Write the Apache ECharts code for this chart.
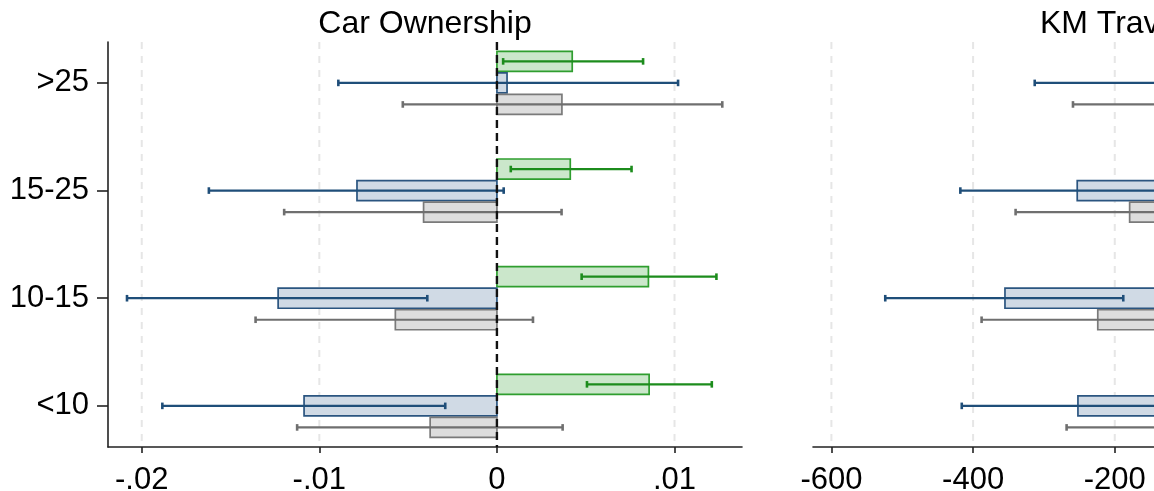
<!DOCTYPE html>
<html>
<head>
<meta charset="utf-8">
<script src="https://cdn.jsdelivr.net/npm/echarts@6/dist/echarts.min.js"></script>
<style>
  html, body { margin: 0; padding: 0; background: #fff; overflow: hidden; width: 1154px; height: 491px; }
  #chart { width: 1500px; height: 491px; }
</style>
</head>
<body>
<div id="chart"></div>
<script>
// Age-band categories, listed bottom to top (positions 1..4 on the y scale)
const categories = ['<10', '10-15', '15-25', '>25'];

// Car ownership: point estimates and 95% confidence bounds per specification
const carA    = [0.00857, 0.00853, 0.00413, 0.00424];
const carALo  = [0.00507, 0.00477, 0.00078, 0.00035];
const carAHi  = [0.01210, 0.01236, 0.00758, 0.00823];
const carB    = [-0.01086, -0.01232, -0.00788, 0.00057];
const carBLo  = [-0.01884, -0.02083, -0.01622, -0.00893];
const carBHi  = [-0.00291, -0.00392, 0.00038, 0.01020];
const carC    = [-0.00376, -0.00572, -0.00413, 0.00366];
const carCLo  = [-0.01125, -0.01359, -0.01198, -0.00530];
const carCHi  = [0.00370, 0.00203, 0.00364, 0.01269];

// KM traveled: point estimates and 95% confidence bounds
const kmA     = [95, 140, 60, 70];
const kmALo   = [20, 38, -20, -30];
const kmAHi   = [170, 242, 140, 170];
const kmB     = [-252, -355, -253, -105];
const kmBLo   = [-416, -524, -418, -313];
const kmBHi   = [-88, -188, -88, 103];
const kmC     = [-120, -224, -179, -95];
const kmCLo   = [-268, -388, -340, -259];
const kmCHi   = [28, -59, -18, 69];

// Axis ticks and their printed labels
const carTicks      = [-0.02, -0.01, 0, 0.01];
const carTickLabels = ['-.02', '-.01', '0', '.01'];
const kmTicks       = [-600, -400, -200, 0, 200];
const kmTickLabels  = ['-600', '-400', '-200', '0', '200'];

const panelTitles = ['Car Ownership', 'KM Traveled'];

// ---- styling ----
const FONT = 'Liberation Sans, Arial, sans-serif';
const BAR_H = 0.186;              // bar thickness in y-scale units
const OFFSETS = [0.2, 0, -0.2];   // A above, B centred, C below the category line
const STYLES = [
  { fill: '#cbe7cb', stroke: '#2f9e2f', ci: '#1c8c1c' },
  { fill: '#d0dae5', stroke: '#2b5580', ci: '#1f4e79' },
  { fill: '#dddddd', stroke: '#7a7a7a', ci: '#6f6f6f' }
];
const Y_MIN = 0.618, Y_MAX = 4.38;

const positions = categories.map((_, i) => i + 1);

function barRender(offset, st) {
  return function (params, api) {
    const v = api.value(0);
    const p = api.value(1) + offset;
    const a = api.coord([0, p]);
    const b = api.coord([v, p]);
    const h = api.size([0, BAR_H])[1];
    return {
      type: 'rect',
      shape: { x: Math.min(a[0], b[0]), y: a[1] - h / 2, width: Math.abs(b[0] - a[0]), height: h },
      style: { fill: st.fill, stroke: st.stroke, lineWidth: 1.7 }
    };
  };
}

function ciRender(offset, st) {
  return function (params, api) {
    const p = api.value(2) + offset;
    const lo = api.coord([api.value(0), p]);
    const hi = api.coord([api.value(1), p]);
    const cap = 3.3;
    const ls = { stroke: st.ci, lineWidth: 2.2 };
    const cs = { stroke: st.ci, lineWidth: 2.6 };
    return {
      type: 'group',
      children: [
        { type: 'line', shape: { x1: lo[0], y1: lo[1], x2: hi[0], y2: hi[1] }, style: ls },
        { type: 'line', shape: { x1: lo[0], y1: lo[1] - cap, x2: lo[0], y2: lo[1] + cap }, style: cs },
        { type: 'line', shape: { x1: hi[0], y1: hi[1] - cap, x2: hi[0], y2: hi[1] + cap }, style: cs }
      ]
    };
  };
}

function vlineRender(color, width, dash) {
  return function (params, api) {
    const t = api.coord([api.value(0), Y_MAX]);
    const b = api.coord([api.value(0), Y_MIN]);
    return {
      type: 'line',
      shape: { x1: t[0], y1: t[1], x2: b[0], y2: b[1] },
      style: { stroke: color, lineWidth: width, lineDash: dash }
    };
  };
}

function panelSeries(idx, vals, los, his, ticks) {
  const out = [];
  // light dashed gridlines at non-zero ticks
  out.push({
    type: 'custom', xAxisIndex: idx, yAxisIndex: idx, silent: true, z: 1,
    renderItem: vlineRender('#e6e6e6', 2, [7, 7]),
    data: ticks.filter(t => t !== 0).map(t => [t]),
    encode: { x: 0 }
  });
  vals.forEach((arr, s) => {
    out.push({
      type: 'custom', xAxisIndex: idx, yAxisIndex: idx, z: 2,
      renderItem: barRender(OFFSETS[s], STYLES[s]),
      data: arr.map((v, i) => [v, positions[i]]),
      encode: { x: 0, y: 1 }
    });
  });
  vals.forEach((arr, s) => {
    out.push({
      type: 'custom', xAxisIndex: idx, yAxisIndex: idx, z: 3,
      renderItem: ciRender(OFFSETS[s], STYLES[s]),
      data: los[s].map((lo, i) => [lo, his[s][i], positions[i]]),
      encode: { x: [0, 1], y: 2 }
    });
  });
  // zero reference line
  out.push({
    type: 'custom', xAxisIndex: idx, yAxisIndex: idx, silent: true, z: 4,
    renderItem: vlineRender('#111', 2.4, [8, 5]),
    data: [[0]],
    encode: { x: 0 }
  });
  return out;
}

function xAxisFor(idx, min, max, ticks, labels) {
  return {
    type: 'value', gridIndex: idx, min: min, max: max,
    splitLine: { show: false },
    axisLine: { show: true, onZero: false, lineStyle: { color: '#222', width: 1.6 } },
    axisTick: { show: true, length: 6, lineStyle: { color: '#222', width: 1.6 }, customValues: ticks },
    axisLabel: {
      customValues: ticks, margin: 18, color: '#000', fontSize: 31, fontFamily: FONT,
      formatter: v => { const k = ticks.findIndex(t => Math.abs(t - v) < 1e-9); return k >= 0 ? labels[k] : ''; }
    }
  };
}

function yAxisFor(idx, visible) {
  return {
    type: 'value', gridIndex: idx, min: Y_MIN, max: Y_MAX,
    splitLine: { show: false },
    axisLine: { show: visible, onZero: false, lineStyle: { color: '#222', width: 1.6 } },
    axisTick: { show: visible, length: 11, lineStyle: { color: '#222', width: 1.6 }, customValues: positions },
    axisLabel: {
      show: visible, customValues: positions, margin: 19, color: '#000', fontSize: 31, fontFamily: FONT,
      formatter: v => { const k = positions.indexOf(Math.round(v)); return k >= 0 ? categories[k] : ''; }
    }
  };
}

const chart = echarts.init(document.getElementById('chart'), null, { renderer: 'canvas' });
chart.setOption({
  animation: false,
  backgroundColor: '#fff',
  title: [
    { text: panelTitles[0], left: 420, top: 3, textAlign: 'center',
      textStyle: { fontSize: 32, fontWeight: 'normal', color: '#000', fontFamily: FONT } },
    { text: panelTitles[1], left: 1125, top: 3, textAlign: 'center',
      textStyle: { fontSize: 32, fontWeight: 'normal', color: '#000', fontFamily: FONT } }
  ],
  grid: [
    { left: 108, width: 634, top: 42, height: 405, containLabel: false, outerBoundsMode: 'none' },
    { left: 813, width: 634, top: 42, height: 405, containLabel: false, outerBoundsMode: 'none' }
  ],
  xAxis: [
    xAxisFor(0, -0.0219, 0.0138, carTicks, carTickLabels),
    xAxisFor(1, -626, 269, kmTicks, kmTickLabels)
  ],
  yAxis: [yAxisFor(0, true), yAxisFor(1, false)],
  series: [].concat(
    panelSeries(0, [carA, carB, carC], [carALo, carBLo, carCLo], [carAHi, carBHi, carCHi], carTicks),
    panelSeries(1, [kmA, kmB, kmC], [kmALo, kmBLo, kmCLo], [kmAHi, kmBHi, kmCHi], kmTicks)
  )
});
</script>
</body>
</html>
